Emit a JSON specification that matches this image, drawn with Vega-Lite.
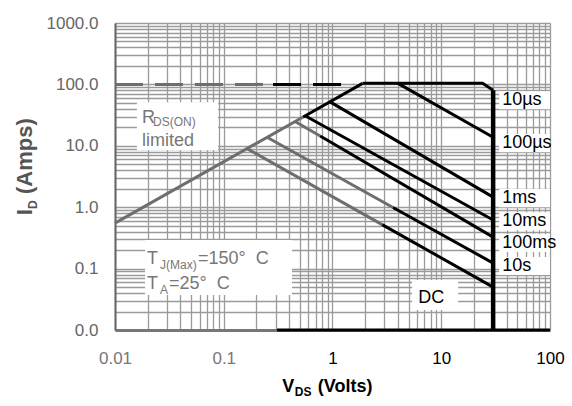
{
  "$schema": "https://vega.github.io/schema/vega-lite/v6.json",
  "width": 435,
  "height": 307,
  "autosize": {"type": "none"},
  "padding": {"left": 115, "top": 23, "right": 22, "bottom": 76},
  "background": "white",
  "config": {"view": {"stroke": null}, "font": "Liberation Sans, Arial, sans-serif"},
  "datasets": {
    "curves": [
      {"seg": "rds_g", "tone": "g", "o": 1, "v": 0.01, "i": 0.55},
      {"seg": "rds_g", "tone": "g", "o": 2, "v": 0.537, "i": 29.5},
      {"seg": "rds_b", "tone": "b", "o": 1, "v": 0.537, "i": 29.5},
      {"seg": "rds_b", "tone": "b", "o": 2, "v": 1.89, "i": 104},
      {"seg": "top", "tone": "b", "o": 1, "v": 1.89, "i": 104},
      {"seg": "top", "tone": "b", "o": 2, "v": 24, "i": 104},
      {"seg": "top", "tone": "b", "o": 3, "v": 30, "i": 80},
      {"seg": "us100", "tone": "b", "o": 1, "v": 4.0, "i": 104},
      {"seg": "us100", "tone": "b", "o": 2, "v": 30, "i": 13.8},
      {"seg": "ms1", "tone": "b", "o": 1, "v": 0.95, "i": 52},
      {"seg": "ms1", "tone": "b", "o": 2, "v": 30, "i": 1.46},
      {"seg": "ms10", "tone": "b", "o": 1, "v": 0.56, "i": 30.8},
      {"seg": "ms10", "tone": "b", "o": 2, "v": 30, "i": 0.62},
      {"seg": "ms100_g", "tone": "g", "o": 1, "v": 0.453, "i": 24.9},
      {"seg": "ms100_g", "tone": "g", "o": 2, "v": 0.77, "i": 14.4},
      {"seg": "ms100_b", "tone": "b", "o": 1, "v": 0.77, "i": 14.4},
      {"seg": "ms100_b", "tone": "b", "o": 2, "v": 30, "i": 0.326},
      {"seg": "s10_g", "tone": "g", "o": 1, "v": 0.25, "i": 13.8},
      {"seg": "s10_g", "tone": "g", "o": 2, "v": 3.6, "i": 0.99},
      {"seg": "s10_b", "tone": "b", "o": 1, "v": 3.6, "i": 0.99},
      {"seg": "s10_b", "tone": "b", "o": 2, "v": 30, "i": 0.123},
      {"seg": "dc_g", "tone": "g", "o": 1, "v": 0.164, "i": 9.0},
      {"seg": "dc_g", "tone": "g", "o": 2, "v": 2.86, "i": 0.52},
      {"seg": "dc_b", "tone": "b", "o": 1, "v": 2.86, "i": 0.52},
      {"seg": "dc_b", "tone": "b", "o": 2, "v": 30, "i": 0.05},
      {"seg": "bottom", "tone": "b", "o": 1, "v": 0.309, "i": 0.01},
      {"seg": "bottom", "tone": "b", "o": 2, "v": 100, "i": 0.01}
    ],
    "vert": [
      {"seg": "vert", "tone": "b", "o": 1, "v": 30, "i": 80},
      {"seg": "vert", "tone": "b", "o": 2, "v": 30, "i": 0.01}
    ],
    "dash": [
      {"seg": "d_g", "tone": "g", "o": 1, "v": 0.01, "i": 100},
      {"seg": "d_g", "tone": "g", "o": 2, "v": 0.284, "i": 100},
      {"seg": "d_b", "tone": "b", "o": 1, "v": 0.284, "i": 100},
      {"seg": "d_b", "tone": "b", "o": 2, "v": 1.55, "i": 100}
    ],
    "boxes": [
      {"v": 0.0159, "v2": 0.0887, "i": 51.3, "i2": 8.49},
      {"v": 0.0189, "v2": 0.4246, "i": 0.291, "i2": 0.0371},
      {"v": 34.1, "v2": 100, "i": 77.3, "i2": 39.4},
      {"v": 34.1, "v2": 100, "i": 15.5, "i2": 7.88},
      {"v": 34.1, "v2": 100, "i": 1.98, "i2": 1.0},
      {"v": 34.1, "v2": 100, "i": 0.83, "i2": 0.423},
      {"v": 34.1, "v2": 100, "i": 0.366, "i2": 0.186},
      {"v": 34.1, "v2": 100, "i": 0.154, "i2": 0.0785},
      {"v": 5.4, "v2": 14.3, "i": 0.065, "i2": 0.0211}
    ],
    "labels": [
      {"t": "R", "v": 0.0177, "i": 28.5, "g": "a"},
      {"t": "limited", "v": 0.0177, "i": 12.1, "g": "a"},
      {"t": "T", "v": 0.01968, "i": 0.142, "g": "a"},
      {"t": "=150° \u00a0C", "v": 0.05807, "i": 0.142, "g": "a"},
      {"t": "T", "v": 0.01968, "i": 0.0561, "g": "a"},
      {"t": "=25° \u00a0C", "v": 0.0314, "i": 0.0561, "g": "a"},
      {"t": "DS(ON)", "v": 0.02239, "i": 24.2, "g": "as"},
      {"t": "J(Max)", "v": 0.02595, "i": 0.114, "g": "as"},
      {"t": "A", "v": 0.02595, "i": 0.0448, "g": "as"},
      {"t": "10µs", "v": 36.3, "i": 55.2, "g": "r"},
      {"t": "100µs", "v": 36.3, "i": 11.04, "g": "r"},
      {"t": "1ms", "v": 36.3, "i": 1.41, "g": "r"},
      {"t": "10ms", "v": 36.3, "i": 0.593, "g": "r"},
      {"t": "100ms", "v": 36.3, "i": 0.261, "g": "r"},
      {"t": "10s", "v": 36.3, "i": 0.11, "g": "r"},
      {"t": "DC", "v": 6.14, "i": 0.0338, "g": "r"},
      {"t": "V", "v": 0.391, "i": 0.00116, "g": "xt"},
      {"t": "(Volts)", "v": 1.306, "i": 0.00116, "g": "xt"},
      {"t": "DS", "v": 0.537, "i": 0.000962, "g": "xts"},
      {"t": "I", "v": 0.001486, "i": 0.832, "g": "yt"},
      {"t": "(Amps)", "v": 0.001486, "i": 6.78, "g": "yt"},
      {"t": "D", "v": 0.00176, "i": 1.1, "g": "yts"}
    ]
  },
  "encoding": {
    "x": {
      "field": "v",
      "type": "quantitative",
      "scale": {"type": "log", "domain": [0.01, 100], "nice": false},
      "axis": {
        "values": [0.01, 0.02, 0.03, 0.04, 0.05, 0.06, 0.07, 0.08, 0.09, 0.1, 0.2, 0.3, 0.4, 0.5, 0.6, 0.7, 0.8, 0.9, 1, 2, 3, 4, 5, 6, 7, 8, 9, 10, 20, 30, 40, 50, 60, 70, 80, 90, 100],
        "labelExpr": "abs(log(datum.value)/LN10 - round(log(datum.value)/LN10)) < 0.001 ? format(datum.value, '~g') : ''",
        "title": null,
        "ticks": false,
        "grid": true,
        "gridColor": "#9a9a9a",
        "gridWidth": 1.3,
        "domainColor": "#777777",
        "domainWidth": 3,
        "labelFontSize": 17,
        "labelFont": "Liberation Sans",
        "labelPadding": 20,
        "labelFlush": false,
        "labelOverlap": false,
        "labelColor": {"condition": {"test": "datum.value < 0.5", "value": "#777777"}, "value": "#000000"}
      }
    },
    "y": {
      "field": "i",
      "type": "quantitative",
      "scale": {"type": "log", "domain": [0.01, 1000], "nice": false},
      "axis": {
        "values": [0.01, 0.02, 0.03, 0.04, 0.05, 0.06, 0.07, 0.08, 0.09, 0.1, 0.2, 0.3, 0.4, 0.5, 0.6, 0.7, 0.8, 0.9, 1, 2, 3, 4, 5, 6, 7, 8, 9, 10, 20, 30, 40, 50, 60, 70, 80, 90, 100, 200, 300, 400, 500, 600, 700, 800, 900, 1000],
        "labelExpr": "abs(log(datum.value)/LN10 - round(log(datum.value)/LN10)) < 0.001 ? format(datum.value, '.1f') : ''",
        "title": null,
        "ticks": false,
        "grid": true,
        "gridColor": "#9a9a9a",
        "gridWidth": 1.3,
        "domainColor": "#666666",
        "domainWidth": 2,
        "labelFontSize": 17,
        "labelFont": "Liberation Sans",
        "labelPadding": 17,
        "labelOverlap": false,
        "labelColor": "#666666"
      }
    }
  },
  "layer": [
    {
      "data": {"name": "boxes"},
      "mark": {"type": "rect", "color": "white"},
      "encoding": {"x2": {"field": "v2"}, "y2": {"field": "i2"}}
    },
    {
      "data": {"name": "curves"},
      "mark": {"type": "line", "strokeWidth": 3, "strokeCap": "butt"},
      "encoding": {
        "detail": {"field": "seg"},
        "order": {"field": "o", "type": "quantitative"},
        "color": {"field": "tone", "type": "nominal", "scale": {"domain": ["g", "b"], "range": ["#6e6e6e", "#000000"]}, "legend": null}
      }
    },
    {
      "data": {"name": "vert"},
      "mark": {"type": "line", "strokeWidth": 4.5, "color": "#000000"},
      "encoding": {"order": {"field": "o", "type": "quantitative"}}
    },
    {
      "data": {"name": "dash"},
      "mark": {"type": "line", "strokeWidth": 3, "strokeDash": [28, 12]},
      "encoding": {
        "detail": {"field": "seg"},
        "order": {"field": "o", "type": "quantitative"},
        "color": {"field": "tone", "type": "nominal", "scale": {"domain": ["g", "b"], "range": ["#6e6e6e", "#000000"]}, "legend": null}
      }
    },
    {
      "data": {"name": "labels"},
      "transform": [{"filter": "datum.g == 'a'"}],
      "mark": {"type": "text", "align": "left", "baseline": "middle", "fontSize": 18, "color": "#777777"},
      "encoding": {"text": {"field": "t"}}
    },
    {
      "data": {"name": "labels"},
      "transform": [{"filter": "datum.g == 'as'"}],
      "mark": {"type": "text", "align": "left", "baseline": "middle", "fontSize": 12, "color": "#777777"},
      "encoding": {"text": {"field": "t"}}
    },
    {
      "data": {"name": "labels"},
      "transform": [{"filter": "datum.g == 'r'"}],
      "mark": {"type": "text", "align": "left", "baseline": "middle", "fontSize": 18, "color": "#000000"},
      "encoding": {"text": {"field": "t"}}
    },
    {
      "data": {"name": "labels"},
      "transform": [{"filter": "datum.g == 'xt'"}],
      "mark": {"type": "text", "align": "center", "baseline": "middle", "fontSize": 18, "fontWeight": "bold", "color": "#000000"},
      "encoding": {"text": {"field": "t"}}
    },
    {
      "data": {"name": "labels"},
      "transform": [{"filter": "datum.g == 'xts'"}],
      "mark": {"type": "text", "align": "center", "baseline": "middle", "fontSize": 12, "fontWeight": "bold", "color": "#000000"},
      "encoding": {"text": {"field": "t"}}
    },
    {
      "data": {"name": "labels"},
      "transform": [{"filter": "datum.g == 'yt'"}],
      "mark": {"type": "text", "align": "center", "baseline": "middle", "fontSize": 22, "fontWeight": "bold", "angle": 270, "color": "#555555"},
      "encoding": {"text": {"field": "t"}}
    },
    {
      "data": {"name": "labels"},
      "transform": [{"filter": "datum.g == 'yts'"}],
      "mark": {"type": "text", "align": "center", "baseline": "middle", "fontSize": 12, "fontWeight": "bold", "angle": 270, "color": "#555555"},
      "encoding": {"text": {"field": "t"}}
    }
  ]
}
